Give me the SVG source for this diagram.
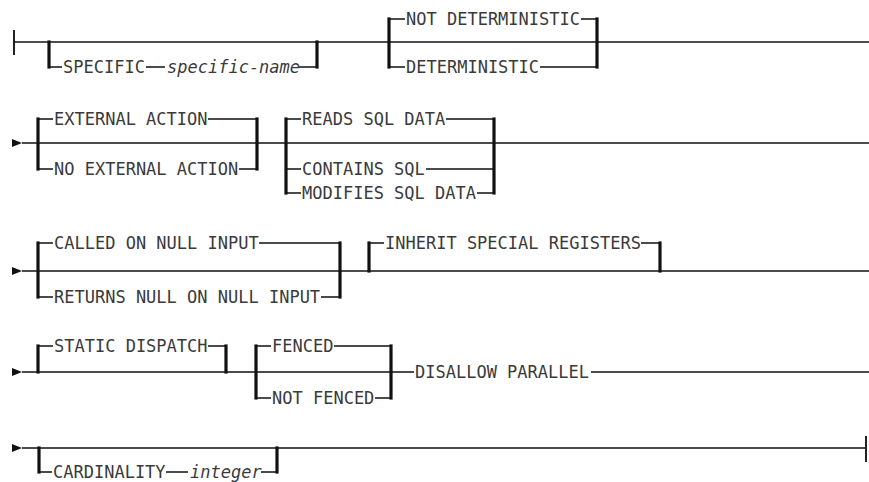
<svg xmlns="http://www.w3.org/2000/svg" width="869" height="482" viewBox="0 0 869 482">
<style>
text{font-family:"DejaVu Sans Mono","Liberation Mono",monospace;font-size:17px;fill:#3a3a3a}
.i{font-style:italic}
.l{stroke:#111;stroke-width:1.6;fill:none}
.b{stroke:#111;stroke-width:3.2;fill:none;stroke-linecap:square}
.e{stroke:#222;stroke-width:2;fill:none}
.a{fill:#111}
</style>
<rect width="869" height="482" fill="#fff"/>
<g id="connectors">
<!-- row 1 -->
<path class="e" d="M14 30V55"/>
<path class="l" d="M14 42H869"/>
<path class="b" d="M49 42V67"/><path class="l" d="M49 67H62M146 67H165M299 67H317"/><path class="b" d="M317 67V42"/>
<path class="b" d="M389 19V67"/><path class="l" d="M389 19H405M581 19H597M389 67H405M540 67H597"/><path class="b" d="M597 19V67"/>
<!-- row 2 -->
<polygon class="a" points="12,139 22,143 12,147"/>
<path class="l" d="M22 143H869"/>
<path class="b" d="M38 119V169"/><path class="l" d="M38 119H53M208 119H257M38 169H53M239 169H257"/><path class="b" d="M257 119V169"/>
<path class="b" d="M286 119V193"/><path class="l" d="M286 119H301M446 119H494M286 169H301M426 169H494M286 193H301M477 193H494"/><path class="b" d="M494 119V193"/>
<!-- row 3 -->
<polygon class="a" points="12,267 22,271 12,275"/>
<path class="l" d="M22 271H869"/>
<path class="b" d="M38 243V297"/><path class="l" d="M38 243H53M259 243H340M38 297H53M321 297H340"/><path class="b" d="M340 243V297"/>
<path class="b" d="M369 243V271"/><path class="l" d="M369 243H384M641 243H660"/><path class="b" d="M660 243V271"/>
<!-- row 4 -->
<polygon class="a" points="12,368 22,372 12,376"/>
<path class="l" d="M22 372H414M591 372H869"/>
<path class="b" d="M38 346V372"/><path class="l" d="M38 346H53M208 346H226"/><path class="b" d="M226 346V372"/>
<path class="b" d="M256 346V398"/><path class="l" d="M256 346H271M334 346H391M256 398H271M375 398H391"/><path class="b" d="M391 346V398"/>
<!-- row 5 -->
<polygon class="a" points="12,444 22,448 12,452"/>
<path class="l" d="M22 448H866"/>
<path class="e" d="M866 436V462"/>
<path class="b" d="M39 448V472"/><path class="l" d="M39 472H52M166 472H188M261 472H277"/><path class="b" d="M277 472V448"/>
</g>
<g id="specific"><text x="63" y="73">SPECIFIC</text><text class="i" x="167" y="73">specific-name</text></g>
<g id="not-deterministic"><text x="406" y="25">NOT DETERMINISTIC</text></g>
<g id="deterministic"><text x="406" y="73">DETERMINISTIC</text></g>
<g id="external-action"><text x="54" y="125">EXTERNAL ACTION</text></g>
<g id="no-external-action"><text x="54" y="175">NO EXTERNAL ACTION</text></g>
<g id="reads-sql-data"><text x="302" y="125">READS SQL DATA</text></g>
<g id="contains-sql"><text x="302" y="175">CONTAINS SQL</text></g>
<g id="modifies-sql-data"><text x="302" y="199">MODIFIES SQL DATA</text></g>
<g id="called-on-null-input"><text x="54" y="249">CALLED ON NULL INPUT</text></g>
<g id="returns-null"><text x="54" y="303">RETURNS NULL ON NULL INPUT</text></g>
<g id="inherit"><text x="385" y="249">INHERIT SPECIAL REGISTERS</text></g>
<g id="static-dispatch"><text x="54" y="352">STATIC DISPATCH</text></g>
<g id="fenced"><text x="272" y="352">FENCED</text></g>
<g id="not-fenced"><text x="272" y="404">NOT FENCED</text></g>
<g id="disallow-parallel"><text x="415" y="378">DISALLOW PARALLEL</text></g>
<g id="cardinality"><text x="53" y="478">CARDINALITY</text><text class="i" x="190" y="478">integer</text></g>
</svg>
